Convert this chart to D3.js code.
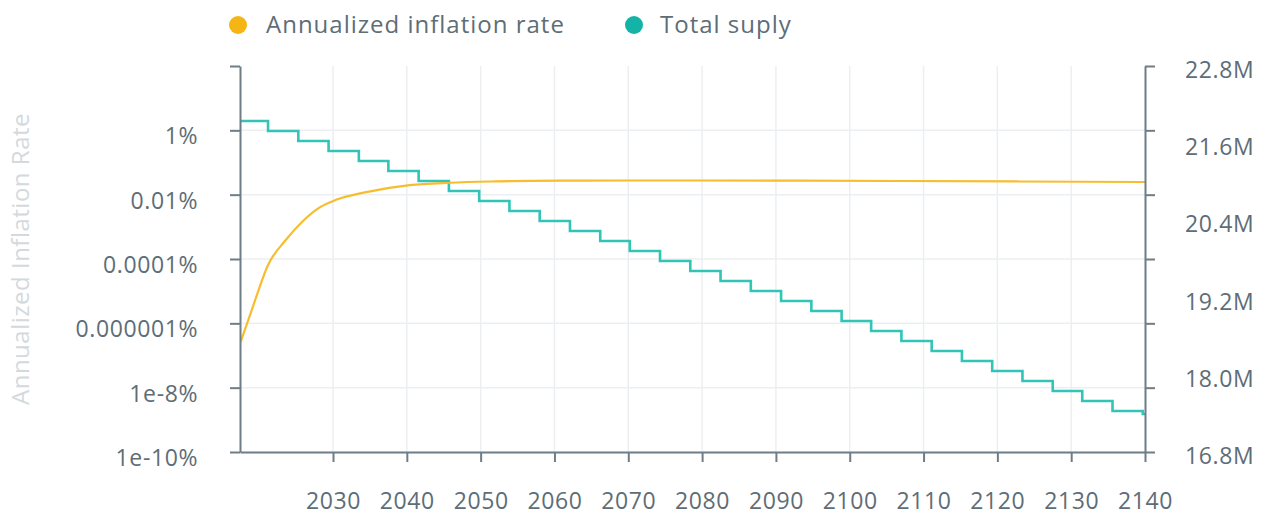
<!DOCTYPE html>
<html>
<head>
<meta charset="utf-8">
<script src="https://cdn.jsdelivr.net/npm/d3@7"></script>
<style>
  body { margin: 0; background: #fff; }
  svg { display: block; font-family: "Open Sans", sans-serif; }
  .tick-label { font-size: 23px; fill: #5e6d76; letter-spacing: 0.6px; }
</style>
</head>
<body>
<svg id="chart" width="1271" height="517"></svg>
<script>
// inflation rate (percent), log scale
const rateYears  = [2017.5, 2019.3, 2021.2, 2023.6, 2025.9, 2028.1, 2030.4, 2034.5, 2040.4, 2045.8, 2052, 2060.8, 2070, 2079.7, 2093, 2106.8, 2123, 2140];
const rateValues = [2.7e-7, 4.2e-6, 6.5e-5, 3.9e-4, 1.5e-3, 3.9e-3, 6.9e-3, 0.0120, 0.0198, 0.0235, 0.0258, 0.0272, 0.0276, 0.0276, 0.0272, 0.0266, 0.0257, 0.0248];

// total supply (millions), step line
const supplyYears = [2017.4, 2021.2, 2025.3, 2029.4, 2033.5, 2037.5, 2041.6, 2045.7, 2049.8, 2053.9, 2058.0,
  2062.1, 2066.2, 2070.2, 2074.3, 2078.4, 2082.5, 2086.6, 2090.7, 2094.8, 2098.9,
  2102.9, 2107.0, 2111.1, 2115.2, 2119.3, 2123.4, 2127.5, 2131.5, 2135.6, 2139.7, 2140];
const supplyValues = [21.945, 21.790, 21.634, 21.479, 21.323, 21.168, 21.012, 20.857, 20.701, 20.546, 20.391,
  20.235, 20.080, 19.924, 19.769, 19.613, 19.458, 19.302, 19.147, 18.992, 18.836,
  18.681, 18.525, 18.370, 18.214, 18.059, 17.903, 17.748, 17.593, 17.437, 17.39, 17.39];

const xTicks = [2030, 2040, 2050, 2060, 2070, 2080, 2090, 2100, 2110, 2120, 2130, 2140];
const leftTickValues = [100, 1, 0.01, 0.0001, 0.000001, 1e-8, 1e-10];
const leftTickLabels = ["", "1%", "0.01%", "0.0001%", "0.000001%", "1e-8%", "1e-10%"];
const rightTickValues = [22.8, 21.6, 20.4, 19.2, 18.0, 16.8];
const rightTickLabels = ["22.8M", "21.6M", "20.4M", "19.2M", "18.0M", "16.8M"];

const seriesNames = ["Annualized inflation rate", "Total suply"];
const colors = { rate: "#f7bd2e", supply: "#33c4b8", axis: "#6e7d86" };

const m = { t: 66, r: 126, b: 65, l: 240 };
const W = 1271, H = 517;
const w = W - m.l - m.r, h = H - m.t - m.b;

const svg = d3.select("#chart");
const g = svg.append("g").attr("transform", `translate(${m.l},${m.t})`);

const x = d3.scaleLinear().domain([2017.4, 2140]).range([0, w]);
const yL = d3.scaleLog().domain([1e-10, 100]).range([h, 0]);
const yR = d3.scaleLinear().domain([16.8, 22.8]).range([h, 0]);

// grid
g.append("g").selectAll("line")
  .data(xTicks.slice(0, -1)).join("line")
  .attr("x1", d => x(d)).attr("x2", d => x(d))
  .attr("y1", 0).attr("y2", h)
  .attr("stroke", "#eceff1").attr("stroke-width", 1.5);
g.append("g").selectAll("line")
  .data(leftTickValues.slice(1, -1)).join("line")
  .attr("x1", 0).attr("x2", w)
  .attr("y1", d => yL(d)).attr("y2", d => yL(d))
  .attr("stroke", "#eceff1").attr("stroke-width", 1.5);

// lines
const supplyData = supplyYears.map((yr, i) => ({ yr, v: supplyValues[i] }));
const rateData = rateYears.map((yr, i) => ({ yr, v: rateValues[i] }));

g.append("path")
  .datum(supplyData)
  .attr("fill", "none")
  .attr("stroke", colors.supply)
  .attr("stroke-width", 2.6)
  .attr("d", d3.line().curve(d3.curveStepAfter).x(d => x(d.yr)).y(d => yR(d.v)));

g.append("path")
  .datum(rateData)
  .attr("fill", "none")
  .attr("stroke", colors.rate)
  .attr("stroke-width", 2.2)
  .attr("d", d3.line().curve(d3.curveMonotoneX).x(d => x(d.yr)).y(d => yL(d.v)));

// axes
function styleAxis(sel) {
  sel.selectAll("path, line").attr("stroke", colors.axis).attr("stroke-width", 2);
  sel.selectAll("text").attr("class", "tick-label").attr("fill", null);
  sel.attr("font-family", null).attr("font-size", null);
}

const leftAxis = g.append("g")
  .call(d3.axisLeft(yL).tickValues(leftTickValues)
    .tickFormat((d, i) => leftTickLabels[i]).tickSize(10).tickSizeOuter(0).tickPadding(32));
styleAxis(leftAxis);
leftAxis.selectAll("text").attr("dy", "0.58em");

const rightAxis = g.append("g")
  .attr("transform", `translate(${w},0)`)
  .call(d3.axisRight(yL).tickValues(leftTickValues).tickFormat("").tickSize(10).tickSizeOuter(0));
styleAxis(rightAxis);
rightAxis.append("g").selectAll("text")
  .data(rightTickValues).join("text")
  .attr("class", "tick-label")
  .attr("x", 40)
  .attr("y", d => yR(d))
  .attr("dy", "0.52em")
  .text((d, i) => rightTickLabels[i]);

const bottomAxis = g.append("g")
  .attr("transform", `translate(0,${h})`)
  .call(d3.axisBottom(x).tickValues(xTicks).tickFormat(d3.format("d")).tickSize(10).tickSizeOuter(0));
styleAxis(bottomAxis);
bottomAxis.selectAll("text").attr("y", 41).attr("dy", "0.71em");

// y title
svg.append("text")
  .attr("transform", "translate(29,259) rotate(-90)")
  .attr("text-anchor", "middle")
  .attr("font-size", 24)
  .attr("letter-spacing", 0.5)
  .attr("fill", "#d3d9dd")
  .text("Annualized Inflation Rate");

// legend
const legend = svg.append("g").attr("transform", "translate(0,25)");
const legendItems = [
  { name: seriesNames[0], color: "#f5b515", cx: 238, tx: 266 },
  { name: seriesNames[1], color: "#13b4a7", cx: 634, tx: 660 }
];
legend.selectAll("circle").data(legendItems).join("circle")
  .attr("cx", d => d.cx).attr("cy", 0).attr("r", 9).attr("fill", d => d.color);
legend.selectAll("text").data(legendItems).join("text")
  .attr("x", d => d.tx).attr("y", 0).attr("dy", "0.35em")
  .attr("font-size", 24).attr("letter-spacing", 1)
  .attr("fill", "#5e6d76")
  .text(d => d.name);
</script>
</body>
</html>
